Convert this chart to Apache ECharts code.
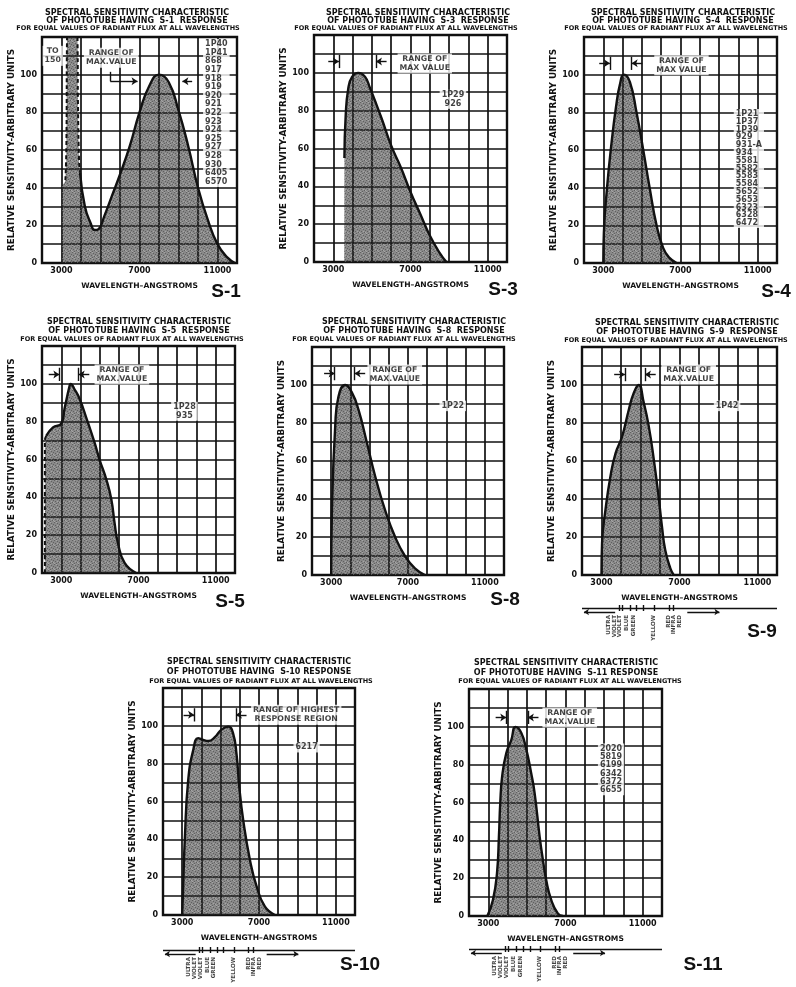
<!DOCTYPE html>
<html><head><meta charset="utf-8">
<script src="https://cdn.jsdelivr.net/npm/echarts@6/dist/echarts.min.js"></script>
<style>html,body{margin:0;padding:0;background:#fff}#c{width:796px;height:987px}</style>
</head><body><div id="c"></div>
<script>
const FONT = "'DejaVu Sans', sans-serif";
const INK = '#111';

// ---------- axes ----------
const xTickLabels = [3000, 7000, 11000];
const yTickLabels = [0, 20, 40, 60, 80, 100];
const xRange = [2000, 12000];
const xStep = 1000;
const yRange = [0, 120];
const yStep = 10;

// ---------- panels ----------
const panelNames = ['S-1', 'S-3', 'S-4', 'S-5', 'S-8', 'S-9', 'S-10', 'S-11'];

// wavelength (angstroms) / relative sensitivity
const s1Wavelength = [3000,3000,3200,3250,3290,3400,3550,3700,3810,3850,3900,3950,4200,4500,4700,4900,5200,5600,6000,6500,7000,7500,8000,8500,9000,9500,10000,10500,11000,11500,11900];
const s1Sensitivity = [0,40,44,62,125,148,150,148,125,80,55,48,30,21,17.5,18,25,36,47,62,80,94,100,96,81,62,40,23,10,3,0];
const s3Wavelength = [3570,3575,3640,3780,3980,4290,4640,4900,5150,5500,6000,6500,7000,7500,8000,8500,8860];
const s3Sensitivity = [0,55,77,92,98,100,98,92,85.5,76,61.5,50,37,25.5,14,5,0];
const s4Wavelength = [3000,3030,3200,3430,3660,3860,4070,4380,4720,5070,5400,5760,6100,6400,6800];
const s4Sensitivity = [0,16,40.7,64,83,94.7,100,96,80,60,40,20,8,3,0];
const s5Wavelength = [2150,2150,2220,2570,3000,3170,3430,3480,3690,3950,4330,4720,4980,5330,5590,5760,5930,6280,6880];
const s5Sensitivity = [0,70,72.5,77,79,87,99,100,97,92,81,69,60,49.5,39,26.5,16,5.3,0];
const s8Wavelength = [3000,3040,3210,3380,3730,4080,4420,4850,5290,5810,6330,6840,7360,7880];
const s8Sensitivity = [0,34,78.5,94,100,96,87,70,52,34,20,10,3.5,0];
const s9Wavelength = [3000,3030,3200,3460,3720,4060,4400,4660,4910,5160,5420,5680,5930,6100,6270,6530,6700];
const s9Sensitivity = [0,17,34,52,64,73,87,96,100,91,78.5,61,41,25.6,13,3.5,0];
const s10Wavelength = [3000,3050,3140,3310,3570,3830,4100,4360,4700,5040,5400,5650,5830,5970,6180,6530,6880,7310,7830];
const s10Sensitivity = [0,15,41,71,87,93.5,92.5,92,94,98,99.6,96,85,68,50,29,15,4.4,0];
const s11Wavelength = [2950,3240,3450,3550,3620,3720,3930,4190,4410,4700,4970,5220,5400,5660,5830,6000,6260,6600,6860];
const s11Sensitivity = [0,8.5,22.6,42,60,74,86,93,100,97,88,75.6,65,42,29.7,19,8.5,1.4,0];

// tube types
const s1Tubes = ['1P40','1P41','868','917','918','919','920','921','922','923','924','925','927','928','930','6405','6570'];
const s3Tubes = ['1P29','926'];
const s4Tubes = ['1P21','1P37','1P39','929','931-A','934','5581','5582','5583','5584','5652','5653','6323','6328','6472'];
const s5Tubes = ['1P28','935'];
const s8Tubes = ['1P22'];
const s9Tubes = ['1P42'];
const s10Tubes = ['6217'];
const s11Tubes = ['2020','5819','6199','6342','6372','6655'];

// range of max value (angstroms)
const s1MaxRange = [6900, 9200];
const s3MaxRange = [3290, 5210];
const s4MaxRange = [3340, 4470];
const s5MaxRange = [2900, 3900];
const s8MaxRange = [3180, 4220];
const s9MaxRange = [4200, 5230];
const s10MaxRange = [3620, 5800];
const s11MaxRange = [3930, 5050];

const rangeTexts = ['RANGE OF\nMAX.VALUE','RANGE OF\nMAX VALUE','RANGE OF\nMAX VALUE','RANGE OF\nMAX.VALUE','RANGE OF\nMAX.VALUE','RANGE OF\nMAX.VALUE','RANGE OF HIGHEST\nRESPONSE REGION','RANGE OF\nMAX.VALUE'];

// color spectrum scale
const spectrumTicks = [3900, 4050, 4450, 4800, 5150, 5700, 6450, 6700];
const spectrumBands = ['ULTRA\nVIOLET', 'VIOLET', 'BLUE', 'GREEN', 'YELLOW', 'RED', 'INFRA\nRED'];
const spectrumBandAt = [3500, 3950, 4300, 4650, 5650, 6450, 6850];
const uvArrow = [3700, 2100];
const irArrow = [7400, 9050];

const titleLine1 = 'SPECTRAL SENSITIVITY CHARACTERISTIC';
const titleLine3 = 'FOR EQUAL VALUES OF RADIANT FLUX AT ALL WAVELENGTHS';
const yName = 'RELATIVE SENSITIVITY-ARBITRARY UNITS';
const xName = 'WAVELENGTH\u2013ANGSTROMS';

const panelData = {
  'S-1': [s1Wavelength, s1Sensitivity, s1Tubes, s1MaxRange],
  'S-3': [s3Wavelength, s3Sensitivity, s3Tubes, s3MaxRange],
  'S-4': [s4Wavelength, s4Sensitivity, s4Tubes, s4MaxRange],
  'S-5': [s5Wavelength, s5Sensitivity, s5Tubes, s5MaxRange],
  'S-8': [s8Wavelength, s8Sensitivity, s8Tubes, s8MaxRange],
  'S-9': [s9Wavelength, s9Sensitivity, s9Tubes, s9MaxRange],
  'S-10': [s10Wavelength, s10Sensitivity, s10Tubes, s10MaxRange],
  'S-11': [s11Wavelength, s11Sensitivity, s11Tubes, s11MaxRange]
};

// ---------- layout (pixels / annotation anchors) ----------
const layout = {
  'S-1': {grid:[42,37,195,226], tx:137, tx3:128, ty:[13,21,28], tag:[226,292], solidFrom:11, dashed:[2,11],
          rangeY:96.5, leader:[5500,101.5], rightFrom:9700, rangeTextAt:[5550,109],
          tubesAt:[10260,119], tubesAlign:'left', tubesLH:8.6, toAt:[2550,110]},
  'S-3': {grid:[314,35,193,227], tx:418, tx3:406, ty:[13,21,28], tag:[503,290], solidFrom:1,
          rangeY:106, rangeTextAt:[7740,105], tubesAt:[9200,86], tubesAlign:'center', tubesLH:8.5},
  'S-4': {grid:[584,37,193,226], tx:683, tx3:676, ty:[13,21,28], tag:[776,292], solidFrom:0,
          rangeY:106, rangeTextAt:[7050,105], tubesAt:[9760,81.8], tubesAlign:'left', tubesLH:7.8},
  'S-5': {grid:[42,346,193,227], tx:139, tx3:132, ty:[322,331,339], tag:[230,602], solidFrom:2, dashed:[0,2],
          rangeY:105, rangeTextAt:[6140,105], tubesAt:[9380,85.5], tubesAlign:'center', tubesLH:8.5},
  'S-8': {grid:[312,347,192,228], tx:414, tx3:404, ty:[322,331,339], tag:[505,600], solidFrom:0,
          rangeY:106, rangeTextAt:[6310,105.5], tubesAt:[9330,89], tubesAlign:'center', tubesLH:8.5},
  'S-9': {grid:[582,347,195,228], tx:687, tx3:676, ty:[323,332,340], tag:[762,632], solidFrom:0, spectrumY:608,
          rangeY:105.5, rangeTextAt:[7470,105.5], tubesAt:[9440,89], tubesAlign:'center', tubesLH:8.5},
  'S-10': {grid:[163,688,192,227], tx:259, tx3:261, ty:[662,672,681], tag:[360,965], solidFrom:0, spectrumY:950,
          rangeY:105.8, rangeTextAt:[8940,105.8], tubesAt:[9480,88.7], tubesAlign:'center', tubesLH:8.5},
  'S-11': {grid:[469,689,193,227], tx:566, tx3:570, ty:[663,673,681], tag:[703,965], solidFrom:0, spectrumY:949,
          rangeY:105, rangeTextAt:[7220,105], tubesAt:[9360,77.5], tubesAlign:'center', tubesLH:8.3}
};

function makePattern() {
  const c = document.createElement('canvas');
  c.width = 6; c.height = 6;
  const g = c.getContext('2d');
  g.fillStyle = 'rgba(45,45,45,0.56)';
  g.fillRect(0, 0, 6, 6);
  g.fillStyle = 'rgba(0,0,0,0.3)';
  [[0,0],[3,1],[1,3],[4,4],[2,5],[5,2]].forEach(([x, y]) => g.fillRect(x, y, 1, 1));
  g.fillStyle = 'rgba(255,255,255,0.25)';
  [[2,0],[5,4],[0,5],[3,3]].forEach(([x, y]) => g.fillRect(x, y, 1, 1));
  return c;
}
const pattern = makePattern();

const grids = [], xAxes = [], yAxes = [], series = [], graphics = [];
const lblFont = {fontFamily: FONT, fontWeight: 'bold', color: INK};

panelNames.forEach((name, i) => {
  const L = layout[name];
  const [wl, sens, tubes, maxRange] = panelData[name];
  grids.push({left: L.grid[0], top: L.grid[1], width: L.grid[2], height: L.grid[3],
    show: true, borderColor: INK, borderWidth: 2.4, backgroundColor: 'transparent'});
  xAxes.push({gridIndex: i, type: 'value', min: xRange[0], max: xRange[1], interval: xStep,
    axisLine: {show: false}, axisTick: {show: false},
    splitLine: {show: true, lineStyle: {color: INK, width: 1.7}},
    axisLabel: Object.assign({fontSize: 8, margin: 4, formatter: v => xTickLabels.includes(v) ? String(v) : ''}, lblFont),
    name: xName, nameLocation: 'middle', nameGap: 19,
    nameTextStyle: Object.assign({fontSize: 7.6}, lblFont)});
  yAxes.push({gridIndex: i, type: 'value', min: yRange[0], max: yRange[1], interval: yStep,
    axisLine: {show: false}, axisTick: {show: false},
    splitLine: {show: true, lineStyle: {color: INK, width: 1.7}},
    axisLabel: Object.assign({fontSize: 8, margin: 5, formatter: v => yTickLabels.includes(v) ? String(v) : ''}, lblFont),
    name: yName, nameLocation: 'middle', nameGap: 22, nameRotate: 90,
    nameTextStyle: Object.assign({fontSize: 8.8}, lblFont)});

  const pts = wl.map((w, k) => [w, sens[k]]);
  const common = {type: 'line', xAxisIndex: i, yAxisIndex: i, smooth: 0.5,
    symbol: 'none', silent: true, animation: false};
  series.push(Object.assign({}, common, {data: pts, z: 2,
    lineStyle: {width: 0, opacity: 0},
    areaStyle: {color: {image: pattern, repeat: 'repeat'}, opacity: 1}}));
  series.push(Object.assign({}, common, {data: pts.slice(L.solidFrom), z: 4,
    lineStyle: {color: INK, width: 2.4}}));
  if (L.dashed) {
    series.push(Object.assign({}, common, {data: pts.slice(L.dashed[0], L.dashed[1] + 1), z: 4,
      lineStyle: {color: INK, width: 2, type: [4, 3]}}));
  }

  // annotations
  const notes = [];
  notes.push({value: L.rangeTextAt, label: {formatter: rangeTexts[i], align: 'center', verticalAlign: 'middle', lineHeight: 9}});
  notes.push({value: L.tubesAt, label: {formatter: tubes.join('\n'), align: L.tubesAlign, fontSize: 8,
    verticalAlign: L.tubesAlign === 'left' ? 'top' : 'middle', lineHeight: L.tubesLH}});
  if (L.toAt) notes.push({value: L.toAt, label: {formatter: 'TO\n150', align: 'center', verticalAlign: 'middle', lineHeight: 9}});

  const y = L.rangeY, a = maxRange[0], b = maxRange[1], h = 3.5, len = 550;
  const ml = [];
  if (L.leader) {
    ml.push([{coord: [L.leader[0], L.leader[1]]}, {coord: [L.leader[0], y]}]);
    ml.push([{coord: [L.leader[0], y]}, {coord: [a, y], symbol: 'arrow'}]);
    ml.push([{coord: [L.rightFrom, y]}, {coord: [b, y], symbol: 'arrow'}]);
  } else {
    ml.push([{coord: [a, y - h]}, {coord: [a, y + h]}]);
    ml.push([{coord: [b, y - h]}, {coord: [b, y + h]}]);
    ml.push([{coord: [a - len, y]}, {coord: [a, y], symbol: 'arrow'}]);
    ml.push([{coord: [b + len, y]}, {coord: [b, y], symbol: 'arrow'}]);
  }
  series.push({type: 'scatter', xAxisIndex: i, yAxisIndex: i, symbolSize: 0, clip: false, z: 6,
    silent: true, animation: false,
    label: Object.assign({show: true, position: 'inside', fontSize: 7.8, backgroundColor: '#fff', padding: [1, 2]}, lblFont),
    data: notes,
    markLine: {silent: true, animation: false, symbol: ['none', 'none'], symbolSize: 6,
      label: {show: false}, lineStyle: {color: INK, width: 1.4, type: 'solid'}, data: ml}});

  // titles
  const line2 = 'OF PHOTOTUBE HAVING  ' + name + (name.length > 3 ? ' ' : '  ') + 'RESPONSE';
  [[titleLine1, 8, L.tx], [line2, 8, L.tx], [titleLine3, 6.5, L.tx3]].forEach(([t, fs, cx], k) => {
    graphics.push({type: 'text', x: cx, y: L.ty[k], silent: true,
      style: {text: t, fill: INK, fontFamily: FONT, fontWeight: 'bold', fontSize: fs, align: 'center', verticalAlign: 'middle'}});
  });
  graphics.push({type: 'text', x: L.tag[0], y: L.tag[1], silent: true,
    style: {text: name, fill: INK, fontFamily: "'Liberation Sans', sans-serif", fontWeight: 'bold', fontSize: 19, align: 'center', verticalAlign: 'middle'}});
});

// spectrum scales
panelNames.forEach((name, i) => {
  const L = layout[name];
  if (!L.spectrumY) return;
  const gi = grids.length;
  grids.push({left: L.grid[0], top: L.spectrumY - 5, width: L.grid[2], height: 40, show: false});
  xAxes.push({gridIndex: gi, type: 'value', min: xRange[0], max: xRange[1], show: false});
  yAxes.push({gridIndex: gi, type: 'value', min: 0, max: 40, inverse: true, show: false});
  const ml = [];
  ml.push([{coord: [xRange[0], 5]}, {coord: [xRange[1], 5]}]);
  spectrumTicks.forEach(t => ml.push([{coord: [t, 2]}, {coord: [t, 8]}]));
  ml.push([{coord: [uvArrow[0], 9]}, {coord: [uvArrow[1], 9], symbol: 'arrow'}]);
  ml.push([{coord: [irArrow[0], 9]}, {coord: [irArrow[1], 9], symbol: 'arrow'}]);
  series.push({type: 'scatter', xAxisIndex: gi, yAxisIndex: gi, symbolSize: 0, clip: false, silent: true, animation: false,
    label: Object.assign({show: true, position: 'inside', fontSize: 5.6, lineHeight: 6, rotate: 90, align: 'right', verticalAlign: 'middle'}, lblFont),
    data: spectrumBands.map((t, k) => ({value: [spectrumBandAt[k], 12], label: {formatter: t}})),
    markLine: {silent: true, animation: false, symbol: ['none', 'none'], symbolSize: 5,
      label: {show: false}, lineStyle: {color: INK, width: 1.4, type: 'solid'}, data: ml}});
});

const chart = echarts.init(document.getElementById('c'), null, {renderer: 'canvas'});
chart.setOption({
  backgroundColor: '#fff',
  animation: false,
  grid: grids, xAxis: xAxes, yAxis: yAxes, series: series, graphic: graphics
});
</script></body></html>
